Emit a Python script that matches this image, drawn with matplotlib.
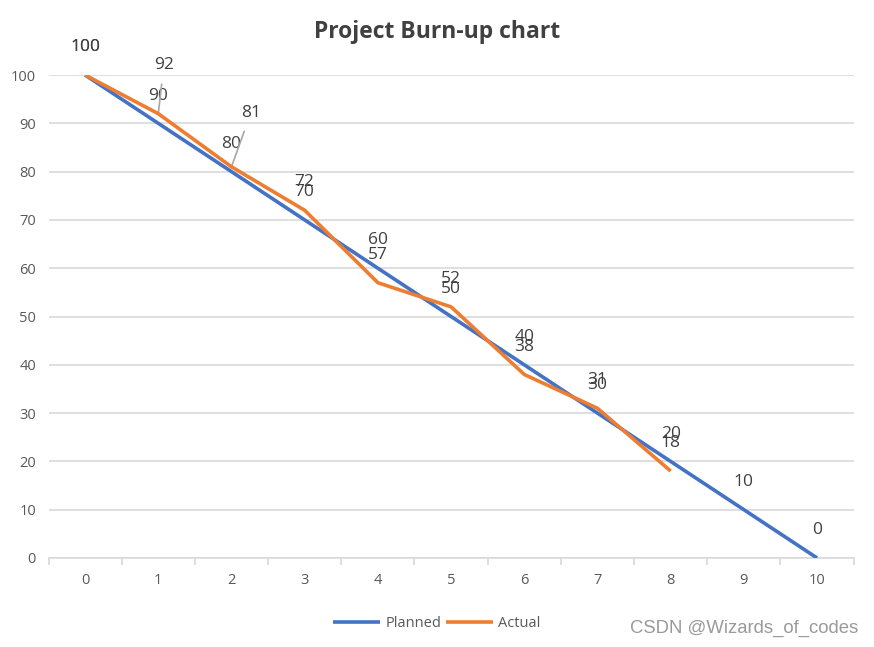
import matplotlib.pyplot as plt
import numpy as np

# 数据
days = list(range(11))
planned = [100, 90, 80, 70, 60, 50, 40, 30, 20, 10, 0]
actual = [100, 92, 81, 72, 57, 52, 38, 31, 18]

blue = '#4472C4'
orange = '#ED7D31'
txt = '#404040'
grid_c = '#D9D9D9'

plt.rcParams['font.family'] = ['Open Sans', 'DejaVu Sans']

fig = plt.figure(figsize=(8.74, 6.47), dpi=100)
ax = fig.add_axes([0.0555, 0.1376, 0.9212, 0.7464])

x_p = np.arange(len(planned))
x_a = np.arange(len(actual))
ax.plot(x_p, planned, color=blue, lw=2.6, label='Planned', solid_capstyle='butt', zorder=3)
ax.plot(x_a, actual, color=orange, lw=2.6, label='Actual', solid_capstyle='butt', zorder=4)

ax.set_xlim(-0.5, 10.5)
ax.set_ylim(0, 100)
ax.set_yticks(range(0, 101, 10))
ax.set_xticks(x_p)
ax.set_xticks(np.arange(-0.5, 10.6, 1), minor=True)
ax.tick_params(axis='x', which='major', length=0, pad=11, labelsize=10.5, labelcolor='#595959')
ax.tick_params(axis='x', which='minor', length=5, color=grid_c, width=1.2)
ax.tick_params(axis='y', length=0, pad=9, labelsize=10.5, labelcolor='#595959')
ax.grid(axis='y', color=grid_c, lw=1.2, zorder=0)
for s in ['top', 'right', 'left']:
    ax.spines[s].set_visible(False)
ax.spines['bottom'].set_color(grid_c)
ax.spines['bottom'].set_linewidth(1.2)

# 数据标签
lab_fs = 12.5
for x, v in zip(x_p, planned):
    ax.annotate(str(v), (x, v), xytext=(0, 20), textcoords='offset points',
                ha='center', va='center', fontsize=lab_fs, color=txt)
moved = {1: (4, 35), 2: (14, 39)}
for x, v in zip(x_a, actual):
    if x in moved:
        dx, dy = moved[x]
        ax.annotate(str(v), (x, v), xytext=(dx, dy), textcoords='offset points',
                    ha='center', va='center', fontsize=lab_fs, color=txt,
                    arrowprops=dict(arrowstyle='-', color='#A6A6A6', lw=1.2,
                                    shrinkA=6, shrinkB=1))
    else:
        ax.annotate(str(v), (x, v), xytext=(0, 20), textcoords='offset points',
                    ha='center', va='center', fontsize=lab_fs, color=txt)

fig.text(0.5, 0.951, 'Project Burn-up chart', ha='center', va='center',
         fontsize=16.5, fontweight='bold', color=txt)

fig.legend(loc='center', bbox_to_anchor=(0.5, 0.036), ncol=2, frameon=False,
           fontsize=10.5, labelcolor='#595959', handlelength=3.2,
           columnspacing=0.3, handletextpad=0.4)

fig.text(0.982, 0.029, 'CSDN @Wizards_of_codes', ha='right', va='center',
         fontsize=13.3, color='#9A9A9A', family=['Liberation Sans', 'DejaVu Sans'])

fig.savefig('out.png', dpi=100)
